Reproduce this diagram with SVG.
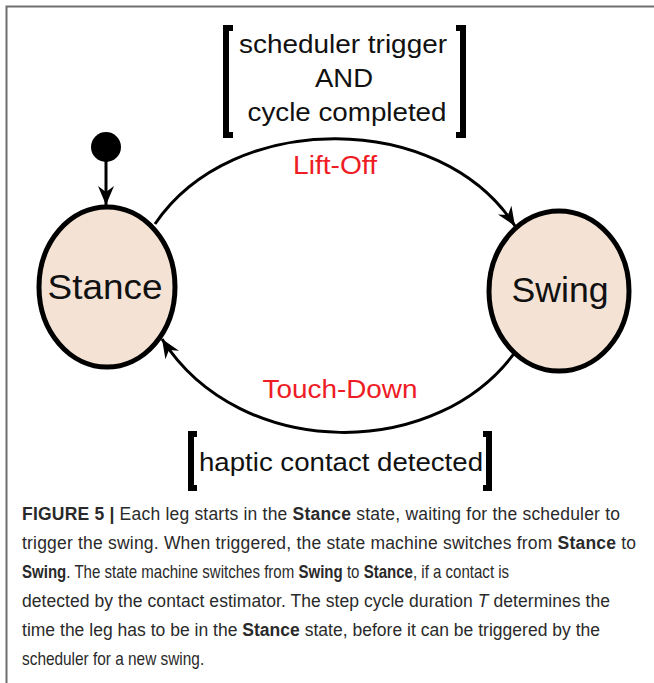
<svg xmlns="http://www.w3.org/2000/svg" width="654" height="683" viewBox="0 0 654 683">
  <style>
    .frame { stroke: #6e6e6e; stroke-width: 2; fill: none; }
    .state { fill: #f4e3d5; stroke: #000; stroke-width: 5; }
    .state-label { font-family: "Liberation Sans", Arial, sans-serif; font-size: 35px; fill: #111; text-anchor: middle; }
    .guard { font-family: "Liberation Sans", Arial, sans-serif; font-size: 26px; fill: #111; text-anchor: middle; }
    .event { font-family: "Liberation Sans", Arial, sans-serif; font-size: 25px; fill: #ee1c24; text-anchor: middle; }
    .bracket { fill: none; stroke: #000; stroke-width: 6; }
    .edge { fill: none; stroke: #000; stroke-width: 3; }
    .caption { font-family: "Liberation Sans", Arial, sans-serif; font-size: 17.5px; fill: #2a2a2a; }
    .b { font-weight: bold; }
  </style>
  <defs>
    <marker id="arrow" viewBox="-20 -9 22 18" markerWidth="22" markerHeight="18" refX="0" refY="0" orient="auto" markerUnits="userSpaceOnUse">
      <path d="M0,0 L-19,-8 L-13,0 L-19,8 Z" fill="#000"/>
    </marker>
  </defs>

  <rect width="654" height="683" fill="#fff"/>
  <!-- figure frame: left and top rules -->
  <path class="frame" d="M6.5,683 L6.5,6.5 L654,6.5"/>

  <!-- transitions -->
  <g id="connectors">
    <path id="initial" class="edge" d="M106,155 L106,205" marker-end="url(#arrow)"/>
    <path id="lift-off" class="edge" d="M155,224 C232,110 440,110 515,226" marker-end="url(#arrow)"/>
    <path id="touch-down" class="edge" d="M518,348 C440,462 240,462 162,339" marker-end="url(#arrow)"/>
  </g>

  <g id="initial-node">
    <circle cx="106" cy="147" r="15" fill="#000"/>
  </g>

  <g id="stance">
    <ellipse class="state" cx="107" cy="287" rx="68" ry="80"/>
    <text class="state-label" x="105" y="299" textLength="115" lengthAdjust="spacingAndGlyphs">Stance</text>
  </g>

  <g id="swing">
    <ellipse class="state" cx="559" cy="291" rx="70" ry="80"/>
    <text class="state-label" x="560" y="302" textLength="97" lengthAdjust="spacingAndGlyphs">Swing</text>
  </g>

  <g id="lift-off-label">
    <path class="bracket" d="M233,28 L226,28 L226,135 L233,135"/>
    <path class="bracket" d="M456,28 L463,28 L463,135 L456,135"/>
    <text class="guard" x="343" y="53" textLength="208" lengthAdjust="spacingAndGlyphs">scheduler trigger</text>
    <text class="guard" x="344" y="87" textLength="58" lengthAdjust="spacingAndGlyphs">AND</text>
    <text class="guard" x="347" y="121" textLength="199" lengthAdjust="spacingAndGlyphs">cycle completed</text>
    <text class="event" x="335" y="174" textLength="84" lengthAdjust="spacingAndGlyphs">Lift-Off</text>
  </g>

  <g id="touch-down-label">
    <text class="event" x="340" y="398" textLength="155" lengthAdjust="spacingAndGlyphs">Touch-Down</text>
    <path class="bracket" d="M197,434 L191,434 L191,488 L197,488"/>
    <path class="bracket" d="M483,434 L489,434 L489,488 L483,488"/>
    <text class="guard" x="341" y="471" textLength="284" lengthAdjust="spacingAndGlyphs">haptic contact detected</text>
  </g>

  <g id="caption">
    <text class="caption" x="22" y="520" textLength="598"><tspan class="b">FIGURE 5 |</tspan> Each leg starts in the <tspan class="b">Stance</tspan> state, waiting for the scheduler to</text>
    <text class="caption" x="22" y="549" textLength="614">trigger the swing. When triggered, the state machine switches from <tspan class="b">Stance</tspan> to</text>
    <text class="caption" transform="translate(22,578) scale(0.86,1)" x="0" y="0"><tspan class="b">Swing</tspan>. The state machine switches from <tspan class="b">Swing</tspan> to <tspan class="b">Stance</tspan>, if a contact is</text>
    <text class="caption" x="22" y="607" textLength="588">detected by the contact estimator. The step cycle duration <tspan font-style="italic">T</tspan> determines the</text>
    <text class="caption" x="22" y="636" textLength="578">time the leg has to be in the <tspan class="b">Stance</tspan> state, before it can be triggered by the</text>
    <text class="caption" transform="translate(22,665) scale(0.88,1)" x="0" y="0">scheduler for a new swing.</text>
  </g>
</svg>
